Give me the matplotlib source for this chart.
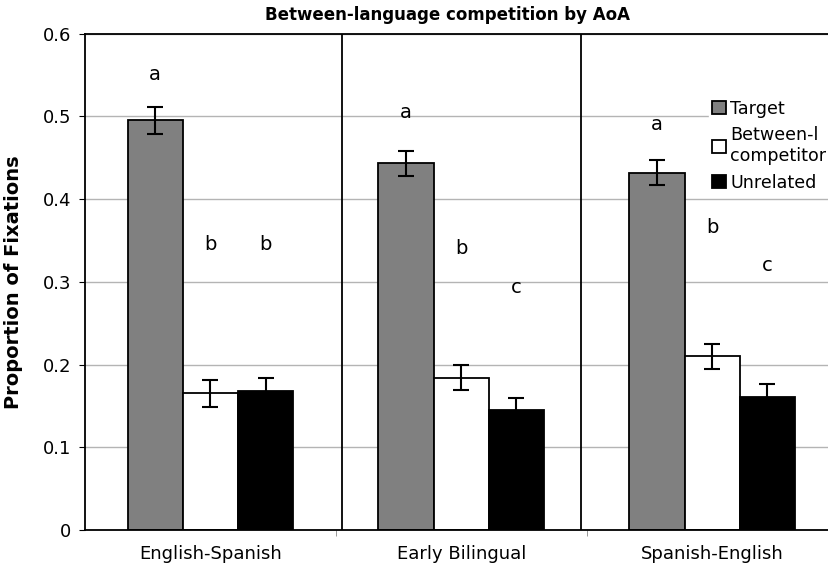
import numpy as np
import matplotlib.pyplot as plt

# data
groups = ['English-Spanish', 'Early Bilingual', 'Spanish-English']
series = ['Target', 'Between-l\ncompetitor', 'Unrelated']
target = [0.495, 0.443, 0.432]
between = [0.165, 0.184, 0.210]
unrelated = [0.168, 0.145, 0.161]
err_target = [0.016, 0.015, 0.015]
err_between = [0.016, 0.015, 0.015]
err_unrelated = [0.016, 0.015, 0.015]
letters_target = ['a', 'a', 'a']
letters_between = ['b', 'b', 'b']
letters_unrelated = ['b', 'c', 'c']
letter_y_target = [0.550, 0.505, 0.490]
letter_y_between = [0.345, 0.340, 0.365]
letter_y_unrelated = [0.345, 0.293, 0.320]

colors = ['#808080', 'white', 'black']

fig = plt.figure(figsize=(8.29, 5.72), dpi=100)
ax = fig.add_axes([0.1025, 0.0734, 0.8975, 0.868])

x = np.arange(len(groups))
w = 0.22
vals = [target, between, unrelated]
errs = [err_target, err_between, err_unrelated]
letters = [letters_target, letters_between, letters_unrelated]
letter_y = [letter_y_target, letter_y_between, letter_y_unrelated]

ax.set_axisbelow(True)
ax.yaxis.grid(True, color='#b4b4b4', linewidth=1.0)

for i in range(3):
    xs = x + (i - 1) * w
    ax.bar(xs, vals[i], width=w, color=colors[i], edgecolor='black',
           linewidth=1.3, label=series[i], zorder=2)
    ax.errorbar(xs, vals[i], yerr=errs[i], fmt='none', ecolor='black',
                elinewidth=1.5, capsize=6, capthick=1.5, zorder=3)
    for xx, yy, t in zip(xs, letter_y[i], letters[i]):
        ax.text(xx, yy, t, ha='center', va='center', fontsize=14)

# panel separators
for sx in [0.526, 1.478]:
    ax.axvline(sx, color='black', linewidth=1.3, zorder=1)

ax.set_xlim(-0.5, 2.466)
ax.set_ylim(0, 0.6)
ax.set_yticks(np.arange(0, 0.61, 0.1))
ax.set_yticklabels(['0', '0.1', '0.2', '0.3', '0.4', '0.5', '0.6'])
ax.set_xticks(x)
ax.set_xticklabels(groups)
ax.set_xticks([0.5, 1.5], minor=True)
ax.tick_params(axis='x', which='major', length=0, labelsize=13, pad=11)
ax.tick_params(axis='x', which='minor', length=4, color='#888888')
ax.tick_params(axis='y', length=4, labelsize=13, pad=6)

for s in ['left', 'top', 'bottom']:
    ax.spines[s].set_linewidth(1.3)
ax.spines['right'].set_visible(False)

ax.set_ylabel('Proportion of Fixations', fontsize=14, fontweight='bold', labelpad=14)
fig.text(0.54, 0.973, 'Between-language competition by AoA', ha='center',
         va='center', fontsize=12, fontweight='bold')

leg = ax.legend(loc='upper left', bbox_to_anchor=(0.827, 0.89), frameon=True,
                fontsize=12.6, handlelength=0.8, handleheight=0.8,
                handletextpad=0.25, labelspacing=0.5, borderpad=0.15)
leg.get_frame().set_edgecolor('white')
leg.get_frame().set_alpha(1)
leg.get_frame().set_boxstyle('square', pad=0)

fig.savefig('out.png', dpi=100)
